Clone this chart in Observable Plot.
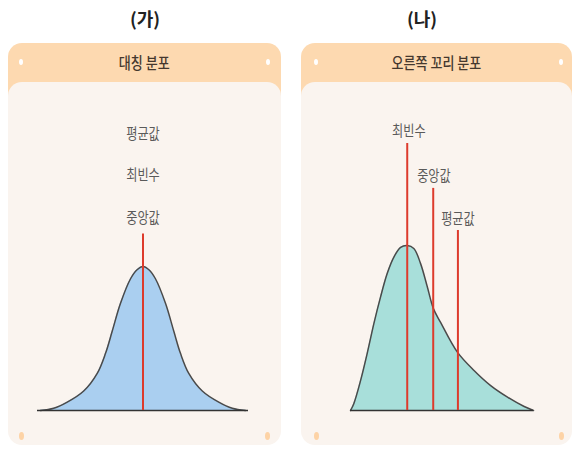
<!DOCTYPE html>
<html>
<head>
<meta charset="utf-8">
<script src="https://cdn.jsdelivr.net/npm/d3@7"></script>
<script src="https://cdn.jsdelivr.net/npm/@observablehq/plot@0.6"></script>
<style>
  html, body { margin: 0; padding: 0; background: #ffffff; }
  body { width: 574px; height: 450px; position: relative; overflow: hidden; font-family: "Noto Sans CJK KR", "Noto Sans", sans-serif; }
  .title { position: absolute; top: 4px; width: 120px; text-align: center; font-size: 18px; font-weight: bold; color: #222; line-height: 28px; }
  .panel { position: absolute; top: 43px; height: 402px; }
  .head { position: absolute; left: 0; right: 0; top: 0; height: 60px; background: #fdd9b0; border-radius: 14px 14px 0 0; }
  .head-text { position: absolute; left: 0; right: 0; top: 0; height: 39px; line-height: 39px; text-align: center; }
  .head-text span { display: inline-block; font-size: 15.5px; font-weight: 500; color: #45382e; transform: scaleX(0.84); }
  .body { position: absolute; left: 0; right: 0; top: 39px; bottom: 0; background: #faf4ef; border-radius: 14px; }
  .dot { position: absolute; width: 4px; height: 6px; border-radius: 50%; }
  .hd { background: #ffffff; top: 16px; }
  .bd { background: #fdd3a6; top: 389px; width: 5px; height: 8px; }
  .chart { position: absolute; left: 0; top: 0; }
</style>
</head>
<body>
<div class="title" id="t1" style="left:85px;"></div>
<div class="title" id="t2" style="left:362px;"></div>

<div class="panel" id="p1" style="left:8px; width:273px;">
  <div class="head"></div>
  <div class="head-text"><span id="h1"></span></div>
  <div class="dot hd" style="left:11px;"></div>
  <div class="dot hd" style="right:11px;"></div>
  <div class="body"><div class="chart" id="c1"></div></div>
  <div class="dot bd" style="left:11px;"></div>
  <div class="dot bd" style="right:11px;"></div>
</div>

<div class="panel" id="p2" style="left:301px; width:271px;">
  <div class="head"></div>
  <div class="head-text"><span id="h2"></span></div>
  <div class="dot hd" style="left:13px;"></div>
  <div class="dot hd" style="right:9px;"></div>
  <div class="body"><div class="chart" id="c2"></div></div>
  <div class="dot bd" style="left:13px;"></div>
  <div class="dot bd" style="right:8px;"></div>
</div>

<script>
// ---- text ----
const panelTitles = ["(가)", "(나)"];
const headerTitles = ["대칭 분포", "오른쪽 꼬리 분포"];

// ---- (가) symmetric distribution ----
const symX = [0.14, 0.77, 1.41, 2.19, 2.83, 3.22, 3.54, 3.93, 4.41, 4.72, 5, 5.28, 5.59, 6.07, 6.46, 6.78, 7.17, 7.81, 8.59, 9.23, 9.86];
const symY = [0, 0.006, 0.023, 0.054, 0.103, 0.158, 0.220, 0.297, 0.366, 0.391, 0.400, 0.391, 0.366, 0.297, 0.220, 0.158, 0.103, 0.054, 0.023, 0.006, 0];
const symLineX = [5];
const symLineTop = [0.49];
const symLabels = ["평균값", "최빈수", "중앙값"];
const symLabelX = [5, 5, 5];
const symLabelY = [0.768, 0.653, 0.535];

// ---- (나) right-tailed distribution ----
const skewX = [0, 0.18, 0.55, 0.91, 1.28, 1.64, 2.01, 2.37, 2.74, 3.10, 3.46, 3.83, 4.20, 4.53, 4.93, 5.84, 6.75, 7.66, 8.58, 9.49, 10];
const skewY = [0, 0.019, 0.083, 0.158, 0.242, 0.315, 0.381, 0.426, 0.453, 0.458, 0.450, 0.408, 0.343, 0.283, 0.244, 0.162, 0.111, 0.069, 0.037, 0.011, 0];
const skewLineX = [3.10, 4.52, 5.87];
const skewLineTop = [0.742, 0.617, 0.50];
const skewLabels = ["최빈수", "중앙값", "평균값"];
const skewLabelX = [3.19, 4.56, 5.87];
const skewLabelY = [0.776, 0.651, 0.531];

const xDomain = [0, 10];
const yDomain = [0, 0.9];

document.getElementById("t1").textContent = panelTitles[0];
document.getElementById("t2").textContent = panelTitles[1];
document.getElementById("h1").textContent = headerTitles[0];
document.getElementById("h2").textContent = headerTitles[1];

// narrow the label glyphs horizontally (keeps Plot's own translate)
function condense(svg, k) {
  d3.select(svg).selectAll("g[aria-label='text'] text").each(function() {
    const tr = this.getAttribute("transform") || "";
    this.setAttribute("transform", `${tr} scale(${k},1)`);
  });
  return svg;
}

function chart({xs, ys, fill, lineX, lineTop, labels, labelX, labelY, width, marginLeft, marginRight}) {
  const pts = xs.map((x, i) => ({x, y: ys[i]}));
  const rules = lineX.map((x, i) => ({x, top: lineTop[i]}));
  const labs = labels.map((t, i) => ({t, x: labelX[i], y: labelY[i]}));
  const svg = Plot.plot({
    width, height: 363,
    marginLeft, marginRight, marginTop: 4, marginBottom: 35,
    x: {domain: xDomain, axis: null},
    y: {domain: yDomain, axis: null},
    style: {background: "transparent", fontFamily: "'Noto Sans CJK KR', sans-serif"},
    marks: [
      Plot.areaY(pts, {x: "x", y: "y", fill, curve: "catmull-rom"}),
      Plot.line(pts, {x: "x", y: "y", stroke: "#4a4a4a", strokeWidth: 1.5, curve: "catmull-rom"}),
      Plot.ruleY([0], {x1: xDomain[0], x2: xDomain[1], stroke: "#333", strokeWidth: 1.6}),
      Plot.ruleX(rules, {x: "x", y1: 0, y2: "top", stroke: "#dd3b2c", strokeWidth: 2}),
      Plot.text(labs, {x: "x", y: "y", text: "t", fill: "#5a5a5a", fontSize: 14.5, textAnchor: "middle"})
    ]
  });
  return condense(svg, 0.84);
}

document.getElementById("c1").appendChild(chart({
  xs: symX, ys: symY, fill: "#aacff0",
  lineX: symLineX, lineTop: symLineTop,
  labels: symLabels, labelX: symLabelX, labelY: symLabelY,
  width: 273, marginLeft: 29, marginRight: 33
}));
document.getElementById("c2").appendChild(chart({
  xs: skewX, ys: skewY, fill: "#a8dfda",
  lineX: skewLineX, lineTop: skewLineTop,
  labels: skewLabels, labelX: skewLabelX, labelY: skewLabelY,
  width: 271, marginLeft: 49, marginRight: 39
}));
</script>
</body>
</html>
